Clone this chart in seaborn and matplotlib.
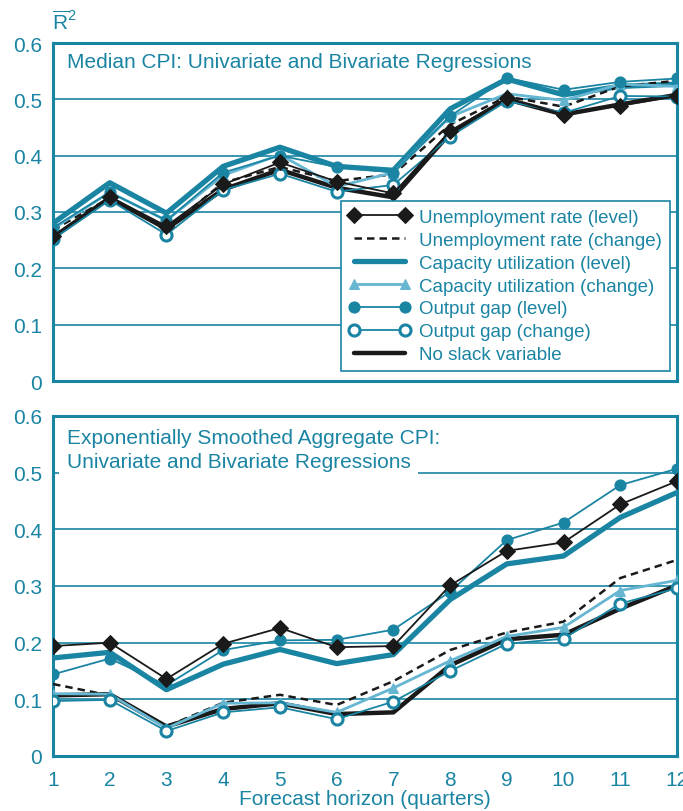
import numpy as np
import pandas as pd
import matplotlib
matplotlib.use("Agg")
import matplotlib.pyplot as plt
import seaborn as sns

# 预测期（季度）
horizon = list(range(1, 13))

# 上图：Median CPI
med_unemp_level = [0.257, 0.327, 0.275, 0.349, 0.388, 0.354, 0.333, 0.444, 0.502, 0.473, 0.489, 0.506]
med_unemp_change = [0.268, 0.325, 0.270, 0.352, 0.380, 0.355, 0.367, 0.455, 0.505, 0.487, 0.523, 0.533]
med_cap_level = [0.280, 0.352, 0.298, 0.381, 0.415, 0.381, 0.374, 0.483, 0.536, 0.508, 0.523, 0.527]
med_cap_change = [0.270, 0.335, 0.285, 0.365, 0.402, 0.345, 0.370, 0.469, 0.510, 0.498, 0.527, 0.523]
med_gap_level = [0.272, 0.335, 0.285, 0.370, 0.400, 0.380, 0.370, 0.470, 0.538, 0.517, 0.531, 0.537]
med_gap_change = [0.252, 0.321, 0.260, 0.339, 0.368, 0.336, 0.348, 0.434, 0.497, 0.476, 0.506, 0.505]
med_no_slack = [0.255, 0.325, 0.270, 0.340, 0.375, 0.343, 0.326, 0.440, 0.500, 0.473, 0.491, 0.508]

# 下图：Exponentially smoothed aggregate CPI
agg_unemp_level = [0.194, 0.200, 0.136, 0.198, 0.226, 0.192, 0.194, 0.301, 0.362, 0.377, 0.444, 0.485]
agg_unemp_change = [0.127, 0.107, 0.052, 0.094, 0.108, 0.090, 0.132, 0.187, 0.218, 0.237, 0.314, 0.346]
agg_cap_level = [0.173, 0.183, 0.117, 0.162, 0.188, 0.163, 0.179, 0.276, 0.339, 0.353, 0.421, 0.465]
agg_cap_change = [0.110, 0.109, 0.049, 0.093, 0.094, 0.077, 0.120, 0.168, 0.211, 0.227, 0.292, 0.310]
agg_gap_level = [0.144, 0.172, 0.125, 0.187, 0.204, 0.205, 0.223, 0.290, 0.381, 0.412, 0.478, 0.507]
agg_gap_change = [0.097, 0.099, 0.044, 0.077, 0.086, 0.065, 0.096, 0.150, 0.198, 0.207, 0.269, 0.296]
agg_no_slack = [0.107, 0.109, 0.052, 0.083, 0.093, 0.074, 0.077, 0.160, 0.206, 0.214, 0.260, 0.301]

labels = ['Unemployment rate (level)', 'Unemployment rate (change)',
          'Capacity utilization (level)', 'Capacity utilization (change)',
          'Output gap (level)', 'Output gap (change)', 'No slack variable']

yticks = [0, 0.1, 0.2, 0.3, 0.4, 0.5, 0.6]
ytick_labels = ['0', '0.1', '0.2', '0.3', '0.4', '0.5', '0.6']

TEAL = '#1a84a3'
LIGHT = '#66b6d2'
BLACK = '#1a1a1a'

sns.set_style('white')
plt.rcParams['font.family'] = ['Liberation Sans', 'DejaVu Sans']
plt.rcParams['mathtext.fontset'] = 'custom'
plt.rcParams['mathtext.rm'] = 'Liberation Sans'

# 每条线的样式
styles = [
    dict(color=BLACK, linewidth=1.3, marker='D', markersize=8.5, markeredgecolor=BLACK),
    dict(color=BLACK, linewidth=1.8, linestyle=(0, (3, 2))),
    dict(color=TEAL, linewidth=3.8),
    dict(color=LIGHT, linewidth=2.0, marker='^', markersize=7, markeredgecolor=LIGHT),
    dict(color=TEAL, linewidth=1.3, marker='o', markersize=8, markeredgecolor=TEAL),
    dict(color=TEAL, linewidth=1.3, marker='o', markersize=8, markerfacecolor='white',
         markeredgecolor=TEAL, markeredgewidth=2.2),
    dict(color=BLACK, linewidth=3.2),
]
draw_order = [2, 6, 1, 3, 5, 4, 0]

fig = plt.figure(figsize=(6.83, 8.12), dpi=100)
ax1 = fig.add_axes([53 / 683, 1 - 382 / 812, 624 / 683, 338 / 812])
ax2 = fig.add_axes([53 / 683, 1 - 757 / 812, 624 / 683, 340 / 812])


def draw_panel(ax, series):
    for i in draw_order:
        sns.lineplot(x=horizon, y=series[i], ax=ax, label=labels[i], errorbar=None,
                     zorder=3 + draw_order.index(i), **styles[i])
    ax.set_xlim(1, 12)
    ax.set_ylim(0, 0.6)
    ax.set_yticks(yticks)
    ax.set_yticklabels(ytick_labels)
    ax.set_xticks(horizon)
    for y in yticks[1:-1]:
        ax.axhline(y, color=TEAL, linewidth=1.2, zorder=1)
    for s in ax.spines.values():
        s.set_color(TEAL)
        s.set_linewidth(2.2)
    ax.tick_params(axis='x', direction='in', length=8, width=1.2, color=TEAL,
                   labelcolor=TEAL, labelsize=15, pad=10)
    ax.tick_params(axis='y', length=0, labelcolor=TEAL, labelsize=15, pad=8)
    ax.set_xlabel('')
    ax.set_ylabel('')


draw_panel(ax1, [med_unemp_level, med_unemp_change, med_cap_level, med_cap_change,
                 med_gap_level, med_gap_change, med_no_slack])
draw_panel(ax2, [agg_unemp_level, agg_unemp_change, agg_cap_level, agg_cap_change,
                 agg_gap_level, agg_gap_change, agg_no_slack])

ax1.tick_params(axis='x', labelbottom=False)

# 图例
handles, labs = ax1.get_legend_handles_labels()
order = [labs.index(l) for l in labels]
leg = ax1.legend([handles[k] for k in order], labels, loc='lower right',
                 bbox_to_anchor=(0.988, 0.03), numpoints=2, handlelength=3.3,
                 fontsize=13.5, frameon=True, fancybox=False, borderpad=0.4,
                 labelspacing=0.31, handletextpad=0.45, borderaxespad=0.0)
leg.get_frame().set_edgecolor(TEAL)
leg.get_frame().set_linewidth(1.2)
leg.get_frame().set_facecolor('white')
leg.get_frame().set_alpha(1)
leg.set_zorder(20)
for t in leg.get_texts():
    t.set_color(TEAL)
ax2.get_legend().remove()

ax1.text(0.022, 0.944, 'Median CPI: Univariate and Bivariate Regressions',
         transform=ax1.transAxes, ha='left', va='center', color=TEAL, fontsize=15,
         zorder=15)
ax2.text(0.022, 0.938, 'Exponentially Smoothed Aggregate CPI:',
         transform=ax2.transAxes, ha='left', va='center', color=TEAL, fontsize=15,
         zorder=17)
ax2.text(0.022, 0.866, 'Univariate and Bivariate Regressions',
         transform=ax2.transAxes, ha='left', va='center', color=TEAL, fontsize=15,
         zorder=15,
         bbox=dict(facecolor='white', edgecolor='none', boxstyle='square,pad=0.35'))

ax2.set_xlabel('Forecast horizon (quarters)', color=TEAL, fontsize=15, labelpad=0)

fig.text(52 / 683, 1 - 22 / 812, r'$\overline{\mathrm{R}}^2$', color=TEAL,
         fontsize=15, ha='left', va='center')

fig.savefig('out.png', dpi=100)
